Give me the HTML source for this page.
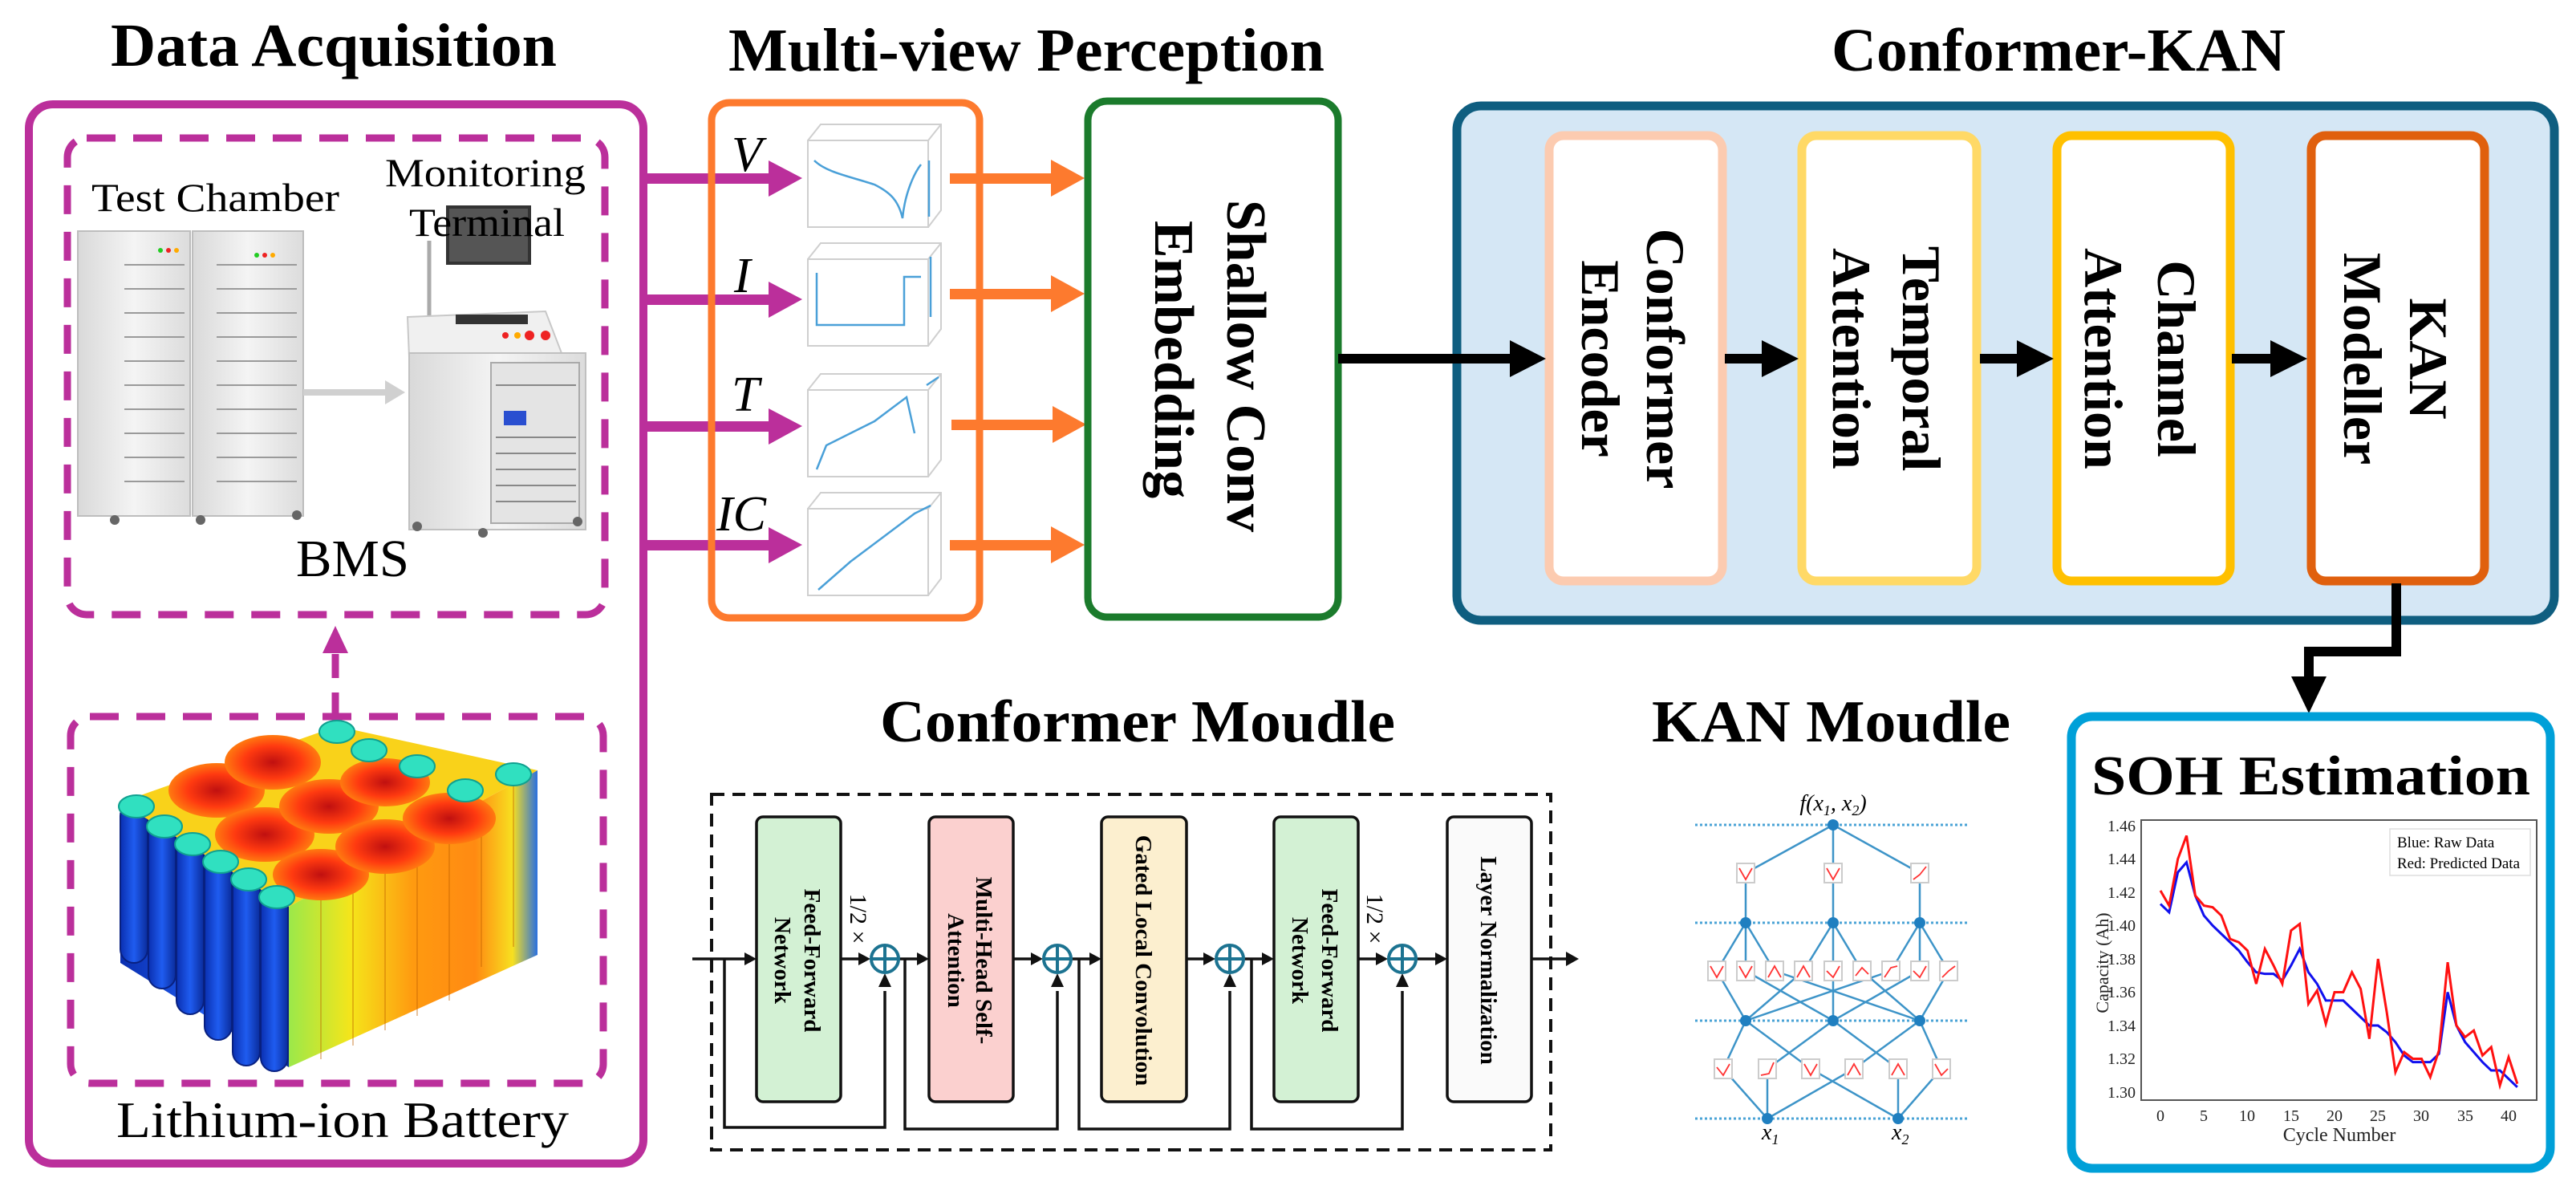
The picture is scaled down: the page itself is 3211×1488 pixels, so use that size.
<!DOCTYPE html>
<html><head><meta charset="utf-8"><style>html,body{margin:0;padding:0;background:#fff}svg{display:block}</style></head>
<body>
<svg width="3211" height="1488" viewBox="0 0 3211 1488" xmlns="http://www.w3.org/2000/svg" font-family="'Liberation Serif', serif">
<defs>
  <linearGradient id="rack" x1="0" x2="1"><stop offset="0" stop-color="#d9d9d9"/><stop offset="0.5" stop-color="#f4f4f4"/><stop offset="1" stop-color="#dcdcdc"/></linearGradient>
  <linearGradient id="cylB" x1="0" x2="1"><stop offset="0" stop-color="#0a2fb0"/><stop offset="0.5" stop-color="#1f5cf0"/><stop offset="1" stop-color="#0a2c9c"/></linearGradient>
  <linearGradient id="cylR" x1="0" x2="1"><stop offset="0" stop-color="#9be84a"/><stop offset="0.25" stop-color="#f5e51a"/><stop offset="0.5" stop-color="#ff9a10"/><stop offset="0.75" stop-color="#ff8a12"/><stop offset="0.9" stop-color="#f7e020"/><stop offset="1" stop-color="#2a70e0"/></linearGradient>
  <radialGradient id="topR"><stop offset="0" stop-color="#c01010"/><stop offset="0.6" stop-color="#ff3a10"/><stop offset="1" stop-color="#ff7a10"/></radialGradient>
</defs>

<!-- Titles -->
<g font-weight="bold" fill="#000">
<text x="138" y="82" font-size="76" textLength="556" lengthAdjust="spacingAndGlyphs">Data Acquisition</text>
<text x="908" y="88" font-size="76" textLength="743" lengthAdjust="spacingAndGlyphs">Multi-view Perception</text>
<text x="2283" y="88" font-size="76" textLength="566" lengthAdjust="spacingAndGlyphs">Conformer-KAN</text>
<text x="1097" y="924" font-size="74" textLength="642" lengthAdjust="spacingAndGlyphs">Conformer Moudle</text>
<text x="2059" y="924" font-size="74" textLength="447" lengthAdjust="spacingAndGlyphs">KAN Moudle</text>
</g>

<!-- Data acquisition box -->
<rect x="36" y="130" width="766" height="1320" rx="30" fill="none" stroke="#bb2f9b" stroke-width="10"/>
<rect x="84" y="172" width="670" height="594" rx="24" fill="none" stroke="#bb2f9b" stroke-width="9" stroke-dasharray="36,22"/>
<rect x="88" y="893" width="664" height="457" rx="24" fill="none" stroke="#bb2f9b" stroke-width="9" stroke-dasharray="36,22"/>
<line x1="418" y1="893" x2="418" y2="812" stroke="#bb2f9b" stroke-width="9" stroke-dasharray="30,18"/>
<polygon points="402,814 434,814 418,780" fill="#bb2f9b"/>

<text x="114" y="263" font-size="50" textLength="309" lengthAdjust="spacingAndGlyphs">Test Chamber</text>
<!-- monitor -->
<rect x="556" y="256" width="106" height="74" fill="#333"/>
<rect x="560" y="260" width="98" height="66" fill="#555"/>
<line x1="535" y1="300" x2="535" y2="395" stroke="#aaa" stroke-width="5"/>
<text x="480" y="232" font-size="50" textLength="250" lengthAdjust="spacingAndGlyphs">Monitoring</text>
<text x="510" y="294" font-size="50" textLength="194" lengthAdjust="spacingAndGlyphs">Terminal</text>
<!-- racks -->
<g stroke="#bdbdbd" stroke-width="2">
<rect x="97" y="288" width="140" height="355" fill="url(#rack)"/>
<rect x="240" y="288" width="138" height="355" fill="url(#rack)"/>
<g fill="none" stroke="#9a9a9a">
<path d="M155 330h75M155 360h75M155 390h75M155 420h75M155 450h75M155 480h75M155 510h75M155 540h75M155 570h75M155 600h75"/>
<path d="M270 330h100M270 360h100M270 390h100M270 420h100M270 450h100M270 480h100M270 510h100M270 540h100M270 570h100M270 600h100"/>
</g>
</g>
<circle cx="200" cy="312" r="3" fill="#2c2"/><circle cx="210" cy="312" r="3" fill="#e22"/><circle cx="220" cy="312" r="3" fill="#fa0"/>
<circle cx="320" cy="318" r="3" fill="#2c2"/><circle cx="330" cy="318" r="3" fill="#e22"/><circle cx="340" cy="318" r="3" fill="#fa0"/>
<circle cx="143" cy="648" r="6" fill="#666"/><circle cx="250" cy="648" r="6" fill="#666"/><circle cx="370" cy="642" r="6" fill="#666"/>
<!-- grey arrow -->
<line x1="378" y1="489" x2="482" y2="489" stroke="#d0d0d0" stroke-width="8"/>
<polygon points="480,474 505,489 480,504" fill="#d0d0d0"/>
<!-- terminal cabinet -->
<path d="M508 395 L680 388 L700 440 L510 445 Z" fill="#f0f0f0" stroke="#c8c8c8" stroke-width="2"/>
<rect x="568" y="392" width="90" height="12" fill="#333"/>
<circle cx="630" cy="418" r="4" fill="#e22"/><circle cx="645" cy="418" r="4" fill="#fa0"/><circle cx="660" cy="418" r="6" fill="#e22"/><circle cx="680" cy="418" r="6" fill="#e22"/>
<rect x="510" y="440" width="220" height="220" fill="url(#rack)" stroke="#c0c0c0" stroke-width="2"/>
<rect x="612" y="452" width="110" height="200" fill="#e4e4e4" stroke="#aaa" stroke-width="2"/>
<rect x="628" y="512" width="28" height="18" fill="#2a4fd0"/>
<g stroke="#888" stroke-width="2"><path d="M618 480h100M618 545h100M618 565h100M618 585h100M618 605h100M618 625h100"/></g>
<circle cx="520" cy="656" r="6" fill="#666"/><circle cx="602" cy="664" r="6" fill="#666"/><circle cx="720" cy="650" r="6" fill="#666"/>
<text x="369" y="718" font-size="66" textLength="141" lengthAdjust="spacingAndGlyphs">BMS</text>

<!-- battery -->
<g>
<polygon points="150,1000 360,1130 360,1330 150,1200" fill="url(#cylB)"/>
<g fill="url(#cylB)" stroke="#082080" stroke-width="2">
<rect x="150" y="1000" width="34" height="200" rx="17"/>
<rect x="185" y="1022" width="34" height="210" rx="17"/>
<rect x="220" y="1044" width="34" height="220" rx="17"/>
<rect x="255" y="1066" width="34" height="230" rx="17"/>
<rect x="290" y="1088" width="34" height="240" rx="17"/>
<rect x="325" y="1110" width="34" height="225" rx="17"/>
</g>
<polygon points="360,1130 670,960 670,1190 360,1330" fill="url(#cylR)"/>
<g stroke="#c06000" stroke-width="1.5" fill="none" opacity="0.5">
<path d="M400 1110v210M440 1088v215M480 1066v218M520 1044v222M560 1022v225M600 1000v205M640 980v200"/>
</g>
<polygon points="150,1000 420,905 670,960 360,1130" fill="#f9d21a"/>
<g fill="url(#topR)">
<ellipse cx="270" cy="985" rx="60" ry="34"/><ellipse cx="340" cy="950" rx="60" ry="34"/>
<ellipse cx="330" cy="1040" rx="62" ry="34"/><ellipse cx="410" cy="1005" rx="62" ry="34"/><ellipse cx="480" cy="975" rx="56" ry="30"/>
<ellipse cx="400" cy="1090" rx="60" ry="32"/><ellipse cx="480" cy="1055" rx="62" ry="34"/><ellipse cx="560" cy="1020" rx="58" ry="32"/>
</g>
<g fill="#30e0c0" stroke="#10a090" stroke-width="2">
<ellipse cx="170" cy="1005" rx="22" ry="14"/><ellipse cx="205" cy="1030" rx="22" ry="14"/><ellipse cx="240" cy="1052" rx="22" ry="14"/>
<ellipse cx="275" cy="1074" rx="22" ry="14"/><ellipse cx="310" cy="1096" rx="22" ry="14"/><ellipse cx="345" cy="1118" rx="22" ry="14"/>
<ellipse cx="420" cy="912" rx="22" ry="14"/><ellipse cx="460" cy="935" rx="22" ry="14"/><ellipse cx="520" cy="955" rx="22" ry="14"/>
<ellipse cx="580" cy="985" rx="22" ry="14"/><ellipse cx="640" cy="965" rx="22" ry="14"/>
</g>
</g>
<text x="145" y="1417" font-size="64" textLength="564" lengthAdjust="spacingAndGlyphs">Lithium-ion Battery</text>

<!-- purple arrows -->
<g fill="#bb2f9b">
<rect x="800" y="216" width="165" height="13"/><polygon points="958,200 1000,222 958,245"/>
<rect x="800" y="367" width="165" height="13"/><polygon points="958,351 1000,373 958,396"/>
<rect x="800" y="525" width="165" height="13"/><polygon points="958,509 1000,531 958,554"/>
<rect x="800" y="673" width="165" height="13"/><polygon points="958,657 1000,679 958,702"/>
</g>
<g font-style="italic" font-size="62">
<text x="912" y="213">V</text><text x="915" y="364">I</text><text x="912" y="512">T</text><text x="893" y="661">IC</text>
</g>

<!-- orange box -->
<rect x="887" y="128" width="334" height="642" rx="22" fill="none" stroke="#fd7a2e" stroke-width="9"/>
<!-- mini charts -->
<g fill="none" stroke="#cfcfcf" stroke-width="2">
<rect x="1007" y="175" width="150" height="108"/><path d="M1007 175 L1023 155 H1173 V262 L1157 283 M1157 175 L1173 155"/>
<rect x="1007" y="323" width="150" height="108"/><path d="M1007 323 L1023 303 H1173 V410 L1157 431 M1157 323 L1173 303"/>
<rect x="1007" y="486" width="150" height="108"/><path d="M1007 486 L1023 466 H1173 V573 L1157 594 M1157 486 L1173 466"/>
<rect x="1007" y="634" width="150" height="108"/><path d="M1007 634 L1023 614 H1173 V721 L1157 742 M1157 634 L1173 614"/>
</g>
<g fill="none" stroke="#4aa0d8" stroke-width="2.5">
<path d="M1015 200 C1030 215 1060 220 1090 230 C1110 240 1120 250 1125 272 C1128 240 1140 215 1148 205 M1158 200 V270"/>
<path d="M1018 340 V405 H1127 V345 H1148 M1160 320 V395"/>
<path d="M1018 585 L1030 555 L1060 540 L1090 525 L1130 495 L1140 540 M1155 480 L1170 470"/>
<path d="M1020 735 L1060 700 L1100 670 L1140 640 L1160 630"/>
</g>

<!-- orange arrows -->
<g fill="#fd7a2e">
<rect x="1184" y="216" width="130" height="13"/><polygon points="1310,199 1352,222 1310,245"/>
<rect x="1184" y="360" width="130" height="13"/><polygon points="1310,343 1352,366 1310,389"/>
<rect x="1186" y="523" width="130" height="13"/><polygon points="1312,506 1354,529 1312,552"/>
<rect x="1184" y="673" width="130" height="13"/><polygon points="1310,656 1352,679 1310,702"/>
</g>

<!-- green box -->
<rect x="1356" y="126" width="312" height="643" rx="24" fill="none" stroke="#1b7b2c" stroke-width="9"/>
<g font-weight="bold" font-size="70" text-anchor="middle">
<text transform="translate(1530,456) rotate(90)">Shallow Conv</text>
<text transform="translate(1440,448) rotate(90)">Embedding</text>
</g>

<!-- conformer-kan box -->
<rect x="1816" y="132" width="1368" height="641" rx="30" fill="#d5e7f5" stroke="#0f5e80" stroke-width="11"/>
<rect x="1931" y="169" width="216" height="555" rx="18" fill="#fff" stroke="#fccbb0" stroke-width="11"/>
<rect x="2246" y="169" width="218" height="555" rx="18" fill="#fff" stroke="#ffd966" stroke-width="11"/>
<rect x="2564" y="169" width="216" height="555" rx="18" fill="#fff" stroke="#ffc000" stroke-width="11"/>
<rect x="2881" y="169" width="216" height="555" rx="18" fill="#fff" stroke="#e0600e" stroke-width="11"/>
<g font-weight="bold" font-size="68" text-anchor="middle">
<text transform="translate(2053,447) rotate(90)">Conformer</text>
<text transform="translate(1972,447) rotate(90)">Encoder</text>
<text transform="translate(2372,447) rotate(90)">Temporal</text>
<text transform="translate(2285,447) rotate(90)">Attention</text>
<text transform="translate(2690,447) rotate(90)">Channel</text>
<text transform="translate(2599,447) rotate(90)">Attention</text>
<text transform="translate(3004,447) rotate(90)">KAN</text>
<text transform="translate(2922,447) rotate(90)">Modeller</text>
</g>
<!-- black arrows -->
<g fill="#000">
<rect x="1668" y="441" width="220" height="12"/><polygon points="1882,424 1927,447 1882,470"/>
<rect x="2150" y="441" width="50" height="12"/><polygon points="2196,424 2242,447 2196,470"/>
<rect x="2468" y="441" width="50" height="12"/><polygon points="2514,424 2560,447 2514,470"/>
<rect x="2782" y="441" width="50" height="12"/><polygon points="2830,424 2876,447 2830,470"/>
</g>
<path d="M2987 727 V812 H2878 V848" fill="none" stroke="#000" stroke-width="12"/>
<polygon points="2856,843 2900,843 2878,889" fill="#000"/>

<!-- SOH box -->
<rect x="2582" y="893" width="597" height="563" rx="26" fill="none" stroke="#00a0d8" stroke-width="11"/>
<text x="2607" y="990" font-size="70" font-weight="bold" textLength="547" lengthAdjust="spacingAndGlyphs">SOH Estimation</text>
<rect x="2669" y="1022" width="493" height="349" fill="#fff" stroke="#555" stroke-width="2"/>
<g font-size="20" fill="#222" text-anchor="end">
<text x="2662" y="1036">1.46</text><text x="2662" y="1077">1.44</text><text x="2662" y="1119">1.42</text>
<text x="2662" y="1160">1.40</text><text x="2662" y="1202">1.38</text><text x="2662" y="1243">1.36</text>
<text x="2662" y="1285">1.34</text><text x="2662" y="1326">1.32</text><text x="2662" y="1368">1.30</text>
</g>
<g font-size="20" fill="#222" text-anchor="middle">
<text x="2693" y="1397">0</text><text x="2747" y="1397">5</text><text x="2801" y="1397">10</text>
<text x="2856" y="1397">15</text><text x="2910" y="1397">20</text><text x="2964" y="1397">25</text>
<text x="3018" y="1397">30</text><text x="3073" y="1397">35</text><text x="3127" y="1397">40</text>
<text x="2916" y="1422" font-size="24">Cycle Number</text>
<text transform="translate(2628,1200) rotate(-90)" font-size="22">Capacity (Ah)</text>
</g>
<rect x="2979" y="1033" width="175" height="58" fill="#fff" stroke="#ddd" stroke-width="1.5"/>
<text x="2988" y="1056" font-size="19">Blue: Raw Data</text>
<text x="2988" y="1082" font-size="19">Red: Predicted Data</text>
<g transform="translate(2693,1361) scale(10.85,-2075) translate(0,-1.30)" fill="none">
<polyline vector-effect="non-scaling-stroke" stroke="#1010ee" stroke-width="3" points="0,1.413 1,1.408 2,1.432 3,1.438 4,1.418 5,1.406 6,1.400 7,1.395 8,1.390 9,1.385 10,1.378 11,1.372 12,1.371 13,1.371 14,1.367 15,1.376 16,1.386 17,1.372 18,1.365 19,1.355 20,1.355 21,1.355 22,1.350 23,1.345 24,1.340 25,1.340 26,1.336 27,1.330 28,1.322 29,1.318 30,1.318 31,1.318 32,1.323 33,1.360 34,1.340 35,1.330 36,1.324 37,1.318 38,1.313 39,1.313 40,1.308 41,1.303"/>
<polyline vector-effect="non-scaling-stroke" stroke="#ff1010" stroke-width="3" points="0,1.421 1,1.412 2,1.440 3,1.454 4,1.418 5,1.412 6,1.411 7,1.406 8,1.392 9,1.390 10,1.385 11,1.365 12,1.386 13,1.376 14,1.365 15,1.397 16,1.401 17,1.353 18,1.361 19,1.341 20,1.360 21,1.360 22,1.372 23,1.362 24,1.332 25,1.380 26,1.348 27,1.312 28,1.324 29,1.320 30,1.320 31,1.309 32,1.325 33,1.378 34,1.340 35,1.333 36,1.337 37,1.322 38,1.327 39,1.304 40,1.321 41,1.305"/>
</g>

<!-- Conformer module -->
<rect x="887" y="990" width="1046" height="443" fill="none" stroke="#111" stroke-width="4" stroke-dasharray="16,10"/>
<g stroke="#111" stroke-width="3.5">
<rect x="943" y="1018" width="105" height="355" rx="8" fill="#d3f1d4"/>
<rect x="1158" y="1018" width="105" height="355" rx="8" fill="#fbd0cf"/>
<rect x="1373" y="1018" width="106" height="355" rx="8" fill="#fcefcf"/>
<rect x="1588" y="1018" width="105" height="355" rx="8" fill="#d3f1d4"/>
<rect x="1804" y="1018" width="105" height="355" rx="8" fill="#fafafa"/>
</g>
<g font-weight="bold" font-size="29" text-anchor="middle">
<text transform="translate(1003,1197) rotate(90)">Feed-Forward</text>
<text transform="translate(966,1197) rotate(90)">Network</text>
<text transform="translate(1217,1197) rotate(90)">Multi-Head Self-</text>
<text transform="translate(1182,1197) rotate(90)">Attention</text>
<text transform="translate(1416,1197) rotate(90)">Gated Local Convolution</text>
<text transform="translate(1648,1197) rotate(90)">Feed-Forward</text>
<text transform="translate(1611,1197) rotate(90)">Network</text>
<text transform="translate(1846,1197) rotate(90)">Layer Normalization</text>
</g>
<g font-size="30" text-anchor="middle">
<text transform="translate(1060,1145) rotate(90)">1/2 ×</text>
<text transform="translate(1704,1145) rotate(90)">1/2 ×</text>
</g>
<g stroke="#111" stroke-width="3.5" fill="none">
<path d="M863 1195 H930 M1048 1195 H1075 M1121 1195 H1146 M1263 1195 H1290 M1336 1195 H1361 M1479 1195 H1505 M1551 1195 H1576 M1693 1195 H1720 M1766 1195 H1792 M1909 1195 H1955"/>
<path d="M903 1195 V1405 H1103 V1235 M1128 1195 V1407 H1318 V1235 M1345 1195 V1407 H1533 V1235 M1560 1195 V1407 H1748 V1235"/>
</g>
<g fill="#111">
<polygon points="928,1187 943,1195 928,1203"/><polygon points="1070,1187 1085,1195 1070,1203"/>
<polygon points="1143,1187 1158,1195 1143,1203"/><polygon points="1285,1187 1300,1195 1285,1203"/>
<polygon points="1358,1187 1373,1195 1358,1203"/><polygon points="1500,1187 1515,1195 1500,1203"/>
<polygon points="1573,1187 1588,1195 1573,1203"/><polygon points="1715,1187 1730,1195 1715,1203"/>
<polygon points="1789,1187 1804,1195 1789,1203"/><polygon points="1952,1186 1968,1195 1952,1204"/>
<polygon points="1095,1230 1111,1230 1103,1213"/><polygon points="1310,1230 1326,1230 1318,1213"/>
<polygon points="1525,1230 1541,1230 1533,1213"/><polygon points="1740,1230 1756,1230 1748,1213"/>
</g>
<g fill="#fff" stroke="#1c7391" stroke-width="4">
<circle cx="1103" cy="1195" r="17"/><circle cx="1318" cy="1195" r="17"/><circle cx="1533" cy="1195" r="17"/><circle cx="1748" cy="1195" r="17"/>
<path d="M1086 1195h34M1103 1178v34M1301 1195h34M1318 1178v34M1516 1195h34M1533 1178v34M1731 1195h34M1748 1178v34" fill="none"/>
</g>

<!-- KAN diagram -->
<g stroke="#4aa3d6" stroke-width="3" stroke-dasharray="3,3">
<path d="M2113 1028H2452M2113 1150H2452M2113 1272H2452M2113 1394H2452"/>
</g>
<g stroke="#3d94c8" stroke-width="2.5" fill="none">
<path d="M2285 1028 L2176 1088 M2285 1028 V1088 M2285 1028 L2393 1088 M2176 1088V1150 M2285 1088V1150 M2393 1088V1150"/>
<path d="M2176 1150 L2140 1210 L2176 1272 M2176 1150 L2176 1210 L2285 1272 M2176 1150 L2212 1210 L2393 1272 M2285 1150 L2248 1210 L2176 1272 M2285 1150 L2285 1210 L2285 1272 M2285 1150 L2321 1210 L2393 1272 M2393 1150 L2357 1210 L2176 1272 M2393 1150 L2393 1210 L2285 1272 M2393 1150 L2429 1210 L2393 1272"/>
<path d="M2176 1272 L2148 1332 L2203 1394 M2176 1272 L2257 1332 L2366 1394 M2285 1272 L2203 1332 L2203 1394 M2285 1272 L2366 1332 L2366 1394 M2393 1272 L2311 1332 L2203 1394 M2393 1272 L2420 1332 L2366 1394"/>
</g>
<g fill="#fff" stroke="#ccc" stroke-width="2">
<rect x="2165" y="1076" width="22" height="24"/><rect x="2274" y="1076" width="22" height="24"/><rect x="2382" y="1076" width="22" height="24"/>
<rect x="2129" y="1198" width="22" height="24"/><rect x="2165" y="1198" width="22" height="24"/><rect x="2201" y="1198" width="22" height="24"/>
<rect x="2237" y="1198" width="22" height="24"/><rect x="2274" y="1198" width="22" height="24"/><rect x="2310" y="1198" width="22" height="24"/>
<rect x="2346" y="1198" width="22" height="24"/><rect x="2382" y="1198" width="22" height="24"/><rect x="2418" y="1198" width="22" height="24"/>
<rect x="2137" y="1320" width="22" height="24"/><rect x="2192" y="1320" width="22" height="24"/><rect x="2246" y="1320" width="22" height="24"/>
<rect x="2300" y="1320" width="22" height="24"/><rect x="2355" y="1320" width="22" height="24"/><rect x="2409" y="1320" width="22" height="24"/>
</g>
<g fill="none" stroke="#f33" stroke-width="1.8">
<path d="M2168 1082 L2176 1096 L2184 1082 M2277 1082 L2285 1096 L2293 1082 M2385 1096 L2393 1090 L2401 1080"/>
<path d="M2132 1204 L2140 1218 L2148 1204 M2168 1204 L2176 1218 L2184 1204 M2204 1218 L2212 1204 L2220 1218 M2240 1218 L2248 1204 L2256 1218 M2277 1210 L2285 1218 L2293 1204 M2313 1216 L2321 1206 L2329 1214 M2349 1218 L2357 1206 L2365 1204 M2385 1210 L2393 1218 L2401 1204 M2421 1218 L2429 1210 L2437 1204"/>
<path d="M2140 1330 L2148 1340 L2156 1326 M2195 1340 L2205 1338 L2211 1324 M2249 1326 L2257 1340 L2265 1326 M2303 1340 L2311 1326 L2319 1340 M2358 1340 L2366 1326 L2374 1340 M2412 1326 L2420 1340 L2428 1332"/>
</g>
<g fill="#1f7fc0">
<circle cx="2285" cy="1028" r="7"/><circle cx="2176" cy="1150" r="7"/><circle cx="2285" cy="1150" r="7"/><circle cx="2393" cy="1150" r="7"/>
<circle cx="2176" cy="1272" r="7"/><circle cx="2285" cy="1272" r="7"/><circle cx="2393" cy="1272" r="7"/>
<circle cx="2203" cy="1394" r="7"/><circle cx="2366" cy="1394" r="7"/>
</g>
<text x="2285" y="1010" font-size="28" font-style="italic" text-anchor="middle">f(x<tspan font-size="18" dy="6">1</tspan><tspan dy="-6">, x</tspan><tspan font-size="18" dy="6">2</tspan><tspan dy="-6">)</tspan></text>
<text x="2196" y="1420" font-size="28" font-style="italic">x<tspan font-size="18" dy="6">1</tspan></text>
<text x="2358" y="1420" font-size="28" font-style="italic">x<tspan font-size="18" dy="6">2</tspan></text>
</svg>
</body></html>
